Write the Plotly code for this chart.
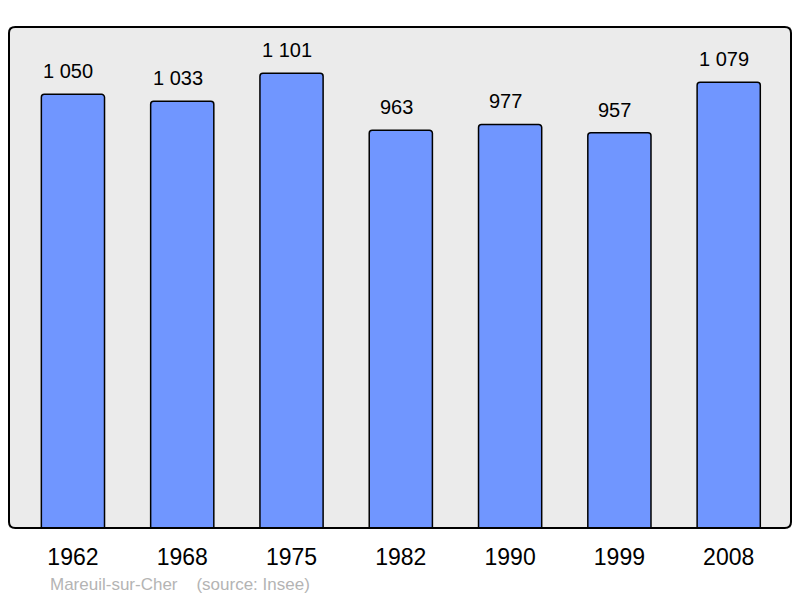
import plotly.graph_objects as go

years = ["1962", "1968", "1975", "1982", "1990", "1999", "2008"]
population = [1050, 1033, 1101, 963, 977, 957, 1079]
labels = ["1 050", "1 033", "1 101", "963", "977", "957", "1 079"]

FONT = "Liberation Sans, Arial, sans-serif"

fig = go.Figure()
fig.add_trace(go.Bar(
    x=list(range(len(years))), y=population,
    width=0.578,
    marker=dict(color="#7096ff", line=dict(color="#000000", width=1.5), cornerradius=3),
    hoverinfo="skip",
))

for i, (v, t) in enumerate(zip(population, labels)):
    fig.add_annotation(x=i, y=v, text=t, showarrow=False, yshift=23, xshift=-4.5,
                       font=dict(family=FONT, size=20, color="#000"))

fig.add_annotation(xref="paper", yref="paper", x=0.05, y=-0.112, xanchor="left", yanchor="middle",
                   text="Mareuil-sur-Cher&nbsp;&nbsp;&nbsp;&nbsp;(source: Insee)", showarrow=False,
                   font=dict(family=FONT, size=17, color="#b4b4b4"))

# rounded frame
ax, ay = 0.008, 0.012
fig.add_shape(type="path", xref="paper", yref="paper", layer="above",
              path=(f"M 0,{ay} Q 0,0 {ax},0 L {1-ax},0 Q 1,0 1,{ay} L 1,{1-ay} Q 1,1 {1-ax},1 "
                    f"L {ax},1 Q 0,1 0,{1-ay} Z"),
              line=dict(color="#000", width=2), fillcolor="rgba(0,0,0,0)")

fig.update_layout(
    width=792, height=590,
    margin=dict(l=1, r=9, t=19, b=70),
    paper_bgcolor="#ffffff", plot_bgcolor="#ebebeb",
    showlegend=False,
    xaxis=dict(range=[-0.585, 6.57], tickmode="array", tickvals=list(range(len(years))), ticktext=years,
               showgrid=False, zeroline=False, showline=False, ticks="outside", ticklen=8,
               tickcolor="rgba(0,0,0,0)",
               tickfont=dict(family=FONT, size=23, color="#000")),
    yaxis=dict(range=[0, 1213], showgrid=False, zeroline=False, showticklabels=False, showline=False),
)
fig.write_html("out.html")
